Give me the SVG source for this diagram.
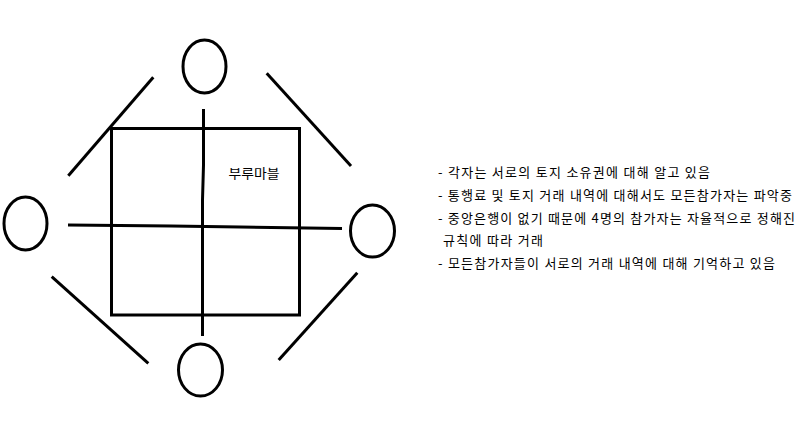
<svg xmlns="http://www.w3.org/2000/svg" width="799" height="430" viewBox="0 0 799 430">
<style>
.s{fill:none;stroke:#000;stroke-width:3}
.t{font-family:"Noto Sans CJK KR","Noto Sans",sans-serif;font-size:13px;fill:#000}
</style>
<rect width="799" height="430" fill="#fff"/>
<g id="board">
<rect class="s" x="111.5" y="128.5" width="188" height="186.5"/>
<text class="t" x="228.5" y="178" font-size="12" textLength="51" lengthAdjust="spacingAndGlyphs">부루마블</text>
</g>
<g id="player-top"><ellipse class="s" cx="204.5" cy="66.5" rx="21.5" ry="26.5"/></g>
<g id="player-left"><ellipse class="s" cx="25.5" cy="223.5" rx="21.5" ry="26.5"/></g>
<g id="player-right"><ellipse class="s" cx="372.5" cy="231" rx="22" ry="26"/></g>
<g id="player-bottom"><ellipse class="s" cx="200.5" cy="370" rx="22" ry="26"/></g>
<g id="connectors">
<polyline class="s" points="203.5,109 203.5,165 202.5,200 202.5,336"/>
<polyline class="s" points="68,225 171,226 240,227 342,228.5"/>
<line class="s" x1="153.3" y1="77.3" x2="68.3" y2="175.7"/>
<line class="s" x1="266.7" y1="73.3" x2="351" y2="166"/>
<line class="s" x1="51.7" y1="276.7" x2="148.3" y2="363.3"/>
<line class="s" x1="357.3" y1="272.7" x2="278.7" y2="360"/>
</g>
<g id="notes">
<text class="t" x="438" y="176.5" textLength="272" lengthAdjust="spacing">- 각자는 서로의 토지 소유권에 대해 알고 있음</text>
<text class="t" x="438" y="199.5" textLength="354" lengthAdjust="spacing">- 통행료 및 토지 거래 내역에 대해서도 모든참가자는 파악중</text>
<text class="t" x="438" y="222.5" textLength="357" lengthAdjust="spacing">- 중앙은행이 없기 때문에 4명의 참가자는 자율적으로 정해진</text>
<text class="t" x="443" y="244.5" textLength="100" lengthAdjust="spacing">규칙에 따라 거래</text>
<text class="t" x="438" y="268" textLength="337" lengthAdjust="spacing">- 모든참가자들이 서로의 거래 내역에 대해 기억하고 있음</text>
</g>
</svg>
